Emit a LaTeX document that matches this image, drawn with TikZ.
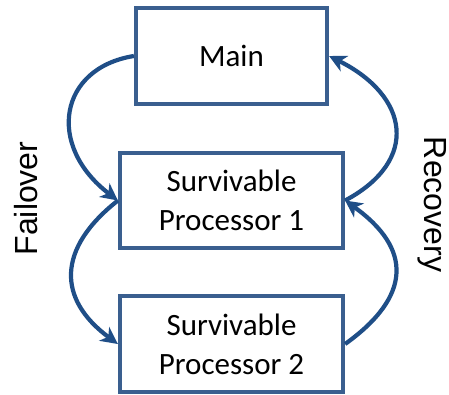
\documentclass[tikz,border=0pt]{standalone}
\usepackage{fontspec}
\setmainfont{Carlito}
\newfontfamily\labelfont{Liberation Sans}
\usetikzlibrary{arrows.meta}
\definecolor{boxblue}{RGB}{58,95,143}
\definecolor{arrowblue}{RGB}{31,78,135}
\begin{document}
\begin{tikzpicture}[x=1pt,y=-1pt,
  procbox/.style={draw=boxblue, line width=4.2pt, fill=white, inner sep=0pt,
    align=center, font=\fontsize{31}{39}\selectfont},
  flow/.style={draw=arrowblue, line width=4.2pt, -{Stealth[length=17pt,width=17pt,inset=5pt]}},
  sidelabel/.style={font=\labelfont\fontsize{32}{38}\selectfont, inner sep=0pt}
]
\useasboundingbox (0,0) rectangle (449,394);
\node[procbox, minimum width=191pt, minimum height=96pt] (main) at (231.5,56) {Main};
\node[procbox, minimum width=223pt, minimum height=95pt] (sp1) at (231.5,200.5) {Survivable\\Processor 1};
\node[procbox, minimum width=223pt, minimum height=96pt] (sp2) at (231.5,344) {Survivable\\Processor 2};
\node[sidelabel, rotate=90] (fail) at (26,198.5) {Failover};
\node[sidelabel, rotate=-90] (rec) at (432.5,204.5) {Recovery};
% failover
\draw[flow] (main.west) .. controls +(-75,12) and +(-72,-55) .. (sp1.west);
\draw[flow] (sp1.west) .. controls +(-61,48) and +(-61,-45) .. (sp2.west);
% recovery
\draw[flow] (sp2.east) .. controls +(67,-48) and +(67,48) .. (sp1.east);
\draw[flow] (sp1.east) .. controls +(75,-40) and +(80,40) .. (main.east);
\end{tikzpicture}
\end{document}
